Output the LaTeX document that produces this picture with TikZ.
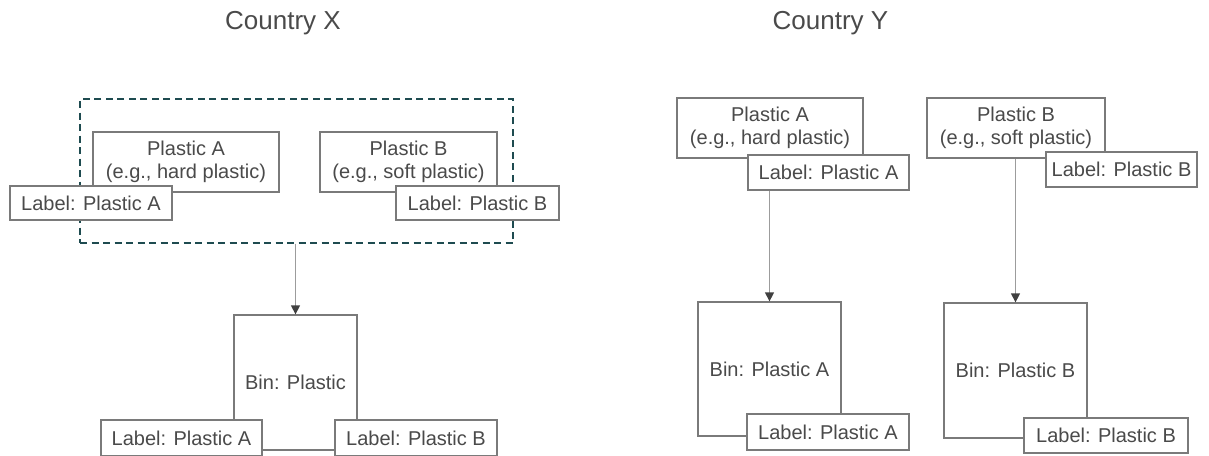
\documentclass[tikz,border=0pt]{standalone}
\usepackage{fontspec}
\setmainfont{Liberation Sans}
\usetikzlibrary{arrows.meta}

\definecolor{txtgray}{HTML}{4A4A4A}
\definecolor{edgegray}{HTML}{7A7A7A}
\definecolor{groupteal}{HTML}{1E4B50}
\definecolor{linkgray}{HTML}{9C9C9C}
\definecolor{tipgray}{HTML}{404040}

\tikzset{
  box/.style={draw=edgegray, line width=1.3pt, fill=white, text=txtgray,
    font=\fontsize{20}{23.3}\selectfont, inner sep=0pt, align=center},
  heading/.style={text=txtgray, font=\fontsize{26}{30}\selectfont, anchor=base, inner sep=0pt},
  link/.style={draw=linkgray, line width=1.3pt,
    -{Triangle[length=9pt,width=9pt,color=tipgray]}},
  group/.style={draw=groupteal, line width=1.8pt, dash pattern=on 7pt off 4.5pt,
    inner sep=0pt, fill=none}
}

\begin{document}
\begin{tikzpicture}[x=1pt, y=-1pt]
\useasboundingbox (0,0) rectangle (1209,455);

% ---------- Country X ----------
\node[heading] (titleX) at (283,29.5) {Country X};

\node[group, minimum width=433pt, minimum height=144pt] (groupX) at (296.5,171) {};
\node[box, minimum width=186pt, minimum height=60pt] (pAX) at (186,162)
  {Plastic A\\(e.g., hard plastic)};
\node[box, minimum width=177pt, minimum height=60pt] (pBX) at (408.5,162)
  {Plastic B\\(e.g., soft plastic)};
\node[box, minimum width=162pt, minimum height=34pt] (lAX) at (91,203) {Label: Plastic A};
\node[box, minimum width=163pt, minimum height=34pt] (lBX) at (477.5,203) {Label: Plastic B};

\node[box, minimum width=123pt, minimum height=135pt] (binX) at (295.5,382.5) {Bin: Plastic};
\node[box, minimum width=161pt, minimum height=36pt] (lAX2) at (181.5,438) {Label: Plastic A};
\node[box, minimum width=162pt, minimum height=36pt] (lBX2) at (416,438) {Label: Plastic B};

\draw[link] (binX.north |- groupX.south) -- (binX.north);

% ---------- Country Y ----------
\node[heading] (titleY) at (830.5,29.5) {Country Y};

\node[box, minimum width=186pt, minimum height=60pt] (pAY) at (770,128)
  {Plastic A\\(e.g., hard plastic)};
\node[box, minimum width=178pt, minimum height=60pt] (pBY) at (1016,128)
  {Plastic B\\(e.g., soft plastic)};

\node[box, minimum width=143pt, minimum height=134pt] (binAY) at (769.5,369) {Bin: Plastic A};
\node[box, minimum width=143pt, minimum height=135pt] (binBY) at (1015.5,370.5) {Bin: Plastic B};

\draw[link] (binAY.north |- pAY.south) -- (binAY.north);
\draw[link] (binBY.north |- pBY.south) -- (binBY.north);

\node[box, minimum width=161pt, minimum height=35pt] (lAY) at (828.5,172.5) {Label: Plastic A};
\node[box, minimum width=151pt, minimum height=35pt] (lBY) at (1121.5,169.5) {Label: Plastic B};
\node[box, minimum width=162pt, minimum height=36pt] (lAY2) at (828,432) {Label: Plastic A};
\node[box, minimum width=164pt, minimum height=35pt] (lBY2) at (1106,435.5) {Label: Plastic B};
\end{tikzpicture}
\end{document}
